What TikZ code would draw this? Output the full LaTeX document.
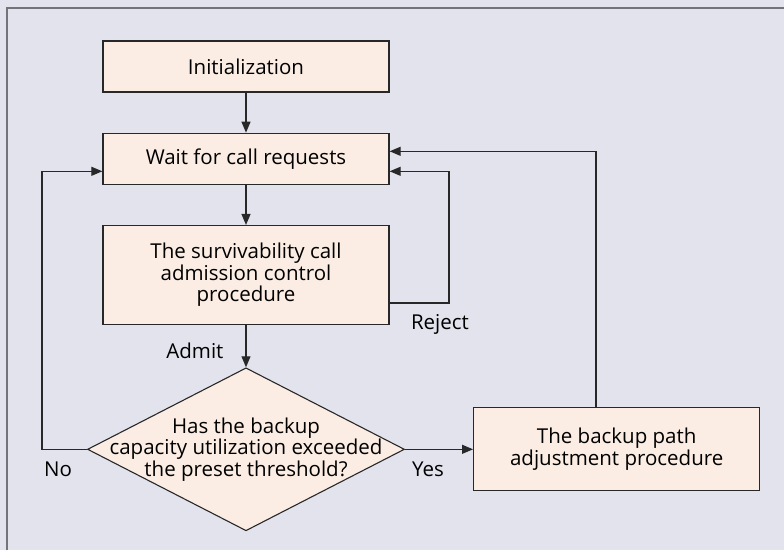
\documentclass[tikz,border=0pt]{standalone}
\usepackage{fontspec}
\setmainfont{Open Sans}
\usetikzlibrary{arrows.meta,positioning,shapes.geometric,calc}
\definecolor{cacBack}{RGB}{227,227,238}
\definecolor{cacFill}{RGB}{251,237,227}
\definecolor{cacLine}{RGB}{40,40,40}
\definecolor{cacFrame}{RGB}{115,115,120}

\begin{document}
\begin{tikzpicture}[
    x=1pt, y=-1pt,
    node distance=40pt,
    box/.style={draw=cacLine, line width=1.3pt, fill=cacFill, align=center, font=\fontsize{20.5}{21.5}\selectfont, minimum width=286pt, minimum height=51pt, inner sep=0pt},
    decision/.style={diamond, draw=cacLine, line width=1.1pt, fill=cacFill, minimum width=317pt, minimum height=163pt, inner sep=0pt},
    lbl/.style={font=\fontsize{20.5}{21.5}\selectfont, inner sep=0pt, align=center, text=black},
    arrow/.style={-{Triangle[length=11pt, width=9pt]}, line width=1.1pt, cacLine}
  ]
    \useasboundingbox (0,0) rectangle (784,550);
    \fill[cacBack] (0,0) rectangle (784,550);
    \draw[cacFrame, line width=1.5pt] (7,550) -- (7,8) -- (784,8);
    % column of steps
    \node[box] (init) at (246,66.5) {Initialization};
    \node[box, below=of init] (wait) {Wait for call requests};
    \node[box, below=of wait, minimum height=99pt] (surv) {The survivability call\\admission control\\procedure};
    \node[decision, below=42pt of surv, label={[lbl]center:Has the backup\\capacity utilization exceeded\\the preset threshold?}] (dec) {};
    \node[box, right=68pt of dec, minimum height=83pt] (adjust) {The backup path\\adjustment procedure};
    % loop corners
    \coordinate (rejcorner) at (449,303);
    \coordinate (nocol) at (42,0);
    \coordinate (backcol) at (596,0);
    % connectors
    \draw[arrow] (init) -- (wait);
    \draw[arrow] (wait) -- (surv);
    \draw[arrow] (surv) -- node[lbl, left=22pt, pos=0.6] {Admit} (dec);
    \draw[arrow] (surv.east |- rejcorner) -- (rejcorner) |- ([yshift=-12.5pt]wait.east);
    \draw[arrow] (dec.west) -- (dec.west -| nocol) |- ([yshift=-12.5pt]wait.west);
    \draw[arrow] (dec.east) -- (adjust.west);
    \draw[arrow] (adjust.north -| backcol) |- ([yshift=7.5pt]wait.east);
    % branch labels
    \node[lbl] (rejlbl) at (440,324) {Reject};
    \node[lbl] (nolbl) at (58,469) {No};
    \node[lbl] (yeslbl) at (428,469) {Yes};
  \end{tikzpicture}
\end{document}
